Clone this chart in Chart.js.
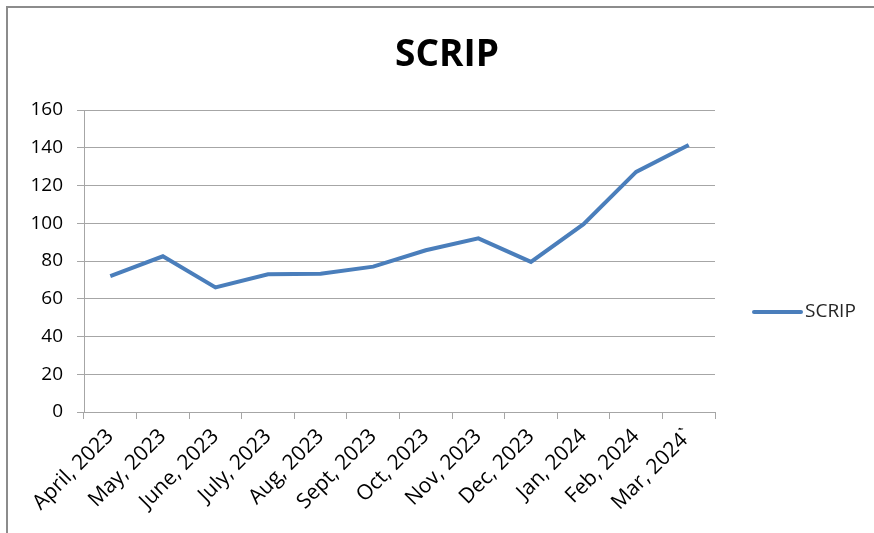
<!DOCTYPE html>
<html>
<head>
<meta charset="utf-8">
<script src="https://cdn.jsdelivr.net/npm/chart.js@4/dist/chart.umd.min.js"></script>
<style>
  body { margin: 0; background: #fff; }
  canvas { display: block; }
</style>
</head>
<body>
<canvas id="chart" width="874" height="533"></canvas>
<script>
const chartTitle = 'SCRIP';
const months = ['April, 2023', 'May, 2023', 'June, 2023', 'July, 2023', 'Aug, 2023', 'Sept, 2023',
  'Oct, 2023', 'Nov, 2023', 'Dec, 2023', 'Jan, 2024', 'Feb, 2024', 'Mar, 2024`'];
const scripValues = [72, 82.5, 66, 73, 73.3, 77, 85.7, 92, 79.5, 99.5, 127.2, 141.5];
const yTicks = [0, 20, 40, 60, 80, 100, 120, 140, 160];

const fontFamily = "'Open Sans', sans-serif";
const lineColor = '#4a7ebb';
const gridColor = '#a6a6a6';

// frame, title and legend drawn by hand so they sit where the Excel chart has them
const decorations = {
  id: 'decorations',
  beforeDraw(chart) {
    const ctx = chart.ctx;
    ctx.save();
    ctx.strokeStyle = '#8c8c8c';
    ctx.lineWidth = 2;
    ctx.beginPath();
    ctx.moveTo(7, 533);
    ctx.lineTo(7, 7);
    ctx.lineTo(874, 7);
    ctx.stroke();
    ctx.restore();
  },
  afterDraw(chart) {
    const ctx = chart.ctx;
    ctx.save();
    ctx.fillStyle = '#000';
    ctx.font = 'bold 37px ' + fontFamily;
    ctx.textAlign = 'center';
    ctx.textBaseline = 'middle';
    ctx.fillText(chartTitle, 447, 55);

    const ds = chart.data.datasets[0];
    ctx.strokeStyle = ds.borderColor;
    ctx.lineWidth = 4;
    ctx.lineCap = 'round';
    ctx.beginPath();
    ctx.moveTo(754, 312);
    ctx.lineTo(801, 312);
    ctx.stroke();
    ctx.fillStyle = '#262626';
    ctx.font = '19px ' + fontFamily;
    ctx.textAlign = 'left';
    ctx.fillText(ds.label, 805, 312);
    ctx.restore();
  }
};

new Chart(document.getElementById('chart').getContext('2d'), {
  type: 'line',
  data: {
    labels: months,
    datasets: [{
      label: 'SCRIP',
      data: scripValues,
      borderColor: lineColor,
      borderWidth: 4,
      pointRadius: 0,
      tension: 0,
      fill: false
    }]
  },
  options: {
    responsive: false,
    animation: false,
    layout: { padding: { left: 8, right: 159, top: 110, bottom: 0 } },
    plugins: {
      legend: { display: false },
      title: { display: false },
      tooltip: { enabled: false }
    },
    scales: {
      x: {
        offset: true,
        grid: {
          offset: true,
          drawOnChartArea: false,
          drawTicks: true,
          tickLength: 7,
          color: gridColor
        },
        border: { color: gridColor },
        ticks: {
          color: '#000',
          font: { family: fontFamily, size: 21 },
          minRotation: 45,
          maxRotation: 45,
          autoSkip: false,
          padding: 5
        },
        afterFit: s => { s.height = 121; }
      },
      y: {
        min: 0,
        max: 160,
        afterBuildTicks: s => { s.ticks = yTicks.map(v => ({ value: v })); },
        grid: {
          color: gridColor,
          tickLength: 7
        },
        border: { color: gridColor },
        ticks: {
          color: '#000',
          font: { family: fontFamily, size: 19 },
          padding: 14
        },
        afterFit: s => { s.width = 76; }
      }
    }
  },
  plugins: [decorations]
});
</script>
</body>
</html>
